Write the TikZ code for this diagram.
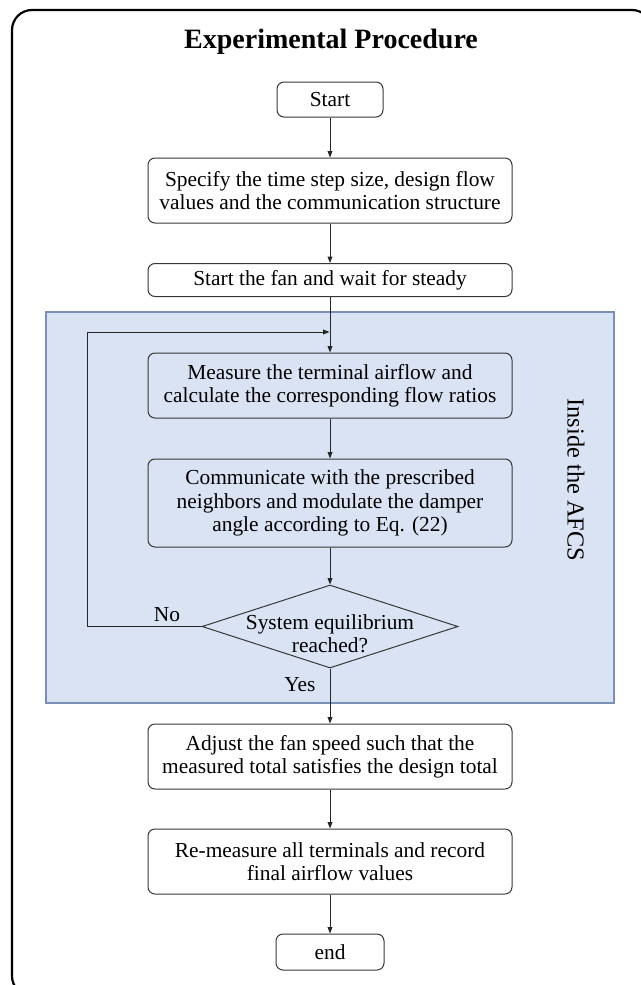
\documentclass[tikz,border=0pt]{standalone}
\usepackage{fontspec}
\setmainfont{Liberation Serif}
\usepackage{xcolor}
\usetikzlibrary{arrows.meta, shapes.geometric, positioning, calc}

\definecolor{afcsfill}{RGB}{218,227,243}
\definecolor{afcsline}{RGB}{124,143,181}
\definecolor{boxline}{RGB}{55,55,55}

\newcommand{\bodyfont}{\fontsize{10.7}{11.6}\selectfont}

\begin{document}
\begin{tikzpicture}[x=0.5pt, y=-0.5pt,
    stepbox/.style={draw=boxline, rounded corners=3.5pt, line width=0.5pt,
      align=center, inner sep=0pt, font=\bodyfont},
    decision/.style={draw=boxline, diamond, line width=0.5pt, inner sep=0pt},
    flow/.style={draw=black!85, line width=0.5pt,
      -{Triangle[length=3.2pt, width=2.4pt]}},
    lbl/.style={font=\bodyfont, inner sep=0pt}]
  \useasboundingbox (0,0) rectangle (641,985);

  % Outer frame (runs off the right and bottom edges)
  \draw[line width=1.1pt, rounded corners=10pt] (12,10) rectangle (652,996);

  \node[font=\fontsize{14}{16}\selectfont\bfseries] (title) at (331,42)
    {Experimental Procedure};

  % AFCS region
  \draw[afcsline, fill=afcsfill, line width=0.6pt] (46,312) rectangle (614,703);
  \node[font=\fontsize{12.2}{14}\selectfont, inner sep=0pt, rotate=-90] (afcs) at (576,480)
    {Inside the AFCS};

  % Steps
  \node[stepbox, minimum width=53pt, minimum height=17.5pt] (start) at (330,99.5) {Start};
  \node[stepbox, fill=white, minimum width=182pt, minimum height=32.5pt] (spec) at (330,190.5)
    {Specify the time step size, design flow\\values and the communication structure};
  \node[stepbox, fill=white, minimum width=182pt, minimum height=16.5pt] (fan) at (330,280)
    {Start the fan and wait for steady};
  \node[stepbox, minimum width=182pt, minimum height=32.5pt] (meas) at (330,385.5)
    {Measure the terminal airflow and\\calculate the corresponding flow ratios};
  \node[stepbox, minimum width=182pt, minimum height=44pt] (comm) at (330,503)
    {Communicate with the prescribed\\neighbors and modulate the damper\\angle according to Eq. (22)};
  \node[decision, minimum width=128pt, minimum height=41.5pt,
    label={[lbl, align=center, yshift=-3.5pt]center:System equilibrium\\reached?}]
    (equil) at (330,626.5) {};
  \node[stepbox, minimum width=182pt, minimum height=32.5pt] (adjust) at (330,756.5)
    {Adjust the fan speed such that the\\measured total satisfies the design total};
  \node[stepbox, minimum width=182pt, minimum height=32.5pt] (remeas) at (330,861.5)
    {Re-measure all terminals and record\\final airflow values};
  \node[stepbox, minimum width=54pt, minimum height=18pt] (end) at (330,952) {end};

  % Connectors
  \draw[flow] (start) -- (spec);
  \draw[flow] (spec) -- (fan);
  \draw[flow] (fan) -- (meas);
  \draw[flow] (meas) -- (comm);
  \draw[flow] (comm) -- (equil);
  \draw[flow] (equil) -- (adjust);
  \draw[flow] (adjust) -- (remeas);
  \draw[flow] (remeas) -- (end);

  % Feedback loop
  \coordinate (rejoin) at (329.5,332);
  \draw[flow] (equil.west) -- ++(-114,0) |- (rejoin);
  \node[lbl] (nolbl) at (167,615) {No};
  \node[lbl] (yeslbl) at (300,685) {Yes};
\end{tikzpicture}
\end{document}
